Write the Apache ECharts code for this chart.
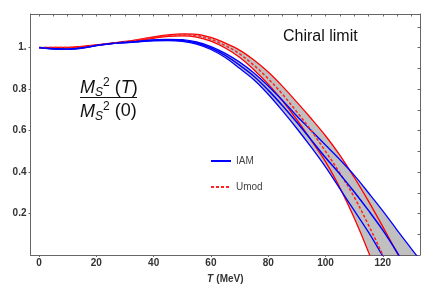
<!DOCTYPE html>
<html><head><meta charset="utf-8">
<script src="https://cdn.jsdelivr.net/npm/echarts@6/dist/echarts.min.js"></script>
<style>html,body{margin:0;padding:0;background:#fff}#c{width:436px;height:284px}</style>
</head><body><div id="c"></div>
<script>
// Temperature grid (MeV)
const T = [0,5,10,15,20,25,30,35,40,45,50,55,60,65,70,75,80,85,90,95,100,105,110,115,120,125,130,135];
// IAM: central value and band edges
const iamCenter = [1.0,0.994,0.992,0.998,1.01,1.019,1.025,1.03,1.035,1.037,1.034,1.022,0.998,0.962,0.915,0.862,0.795,0.72,0.64,0.555,0.47,0.39,0.305,0.215,0.12,0.013,-0.10,-0.21];
const iamUpper  = [1.0,0.995,0.993,0.999,1.011,1.02,1.027,1.032,1.037,1.04,1.038,1.027,1.005,0.972,0.93,0.878,0.815,0.745,0.67,0.60,0.53,0.46,0.385,0.30,0.213,0.12,0.03,-0.06];
const iamLower  = [1.0,0.993,0.991,0.997,1.009,1.018,1.023,1.028,1.033,1.034,1.03,1.017,0.991,0.952,0.90,0.845,0.775,0.695,0.61,0.52,0.425,0.32,0.215,0.11,-0.005,-0.12,-0.23,-0.34];
// Umod: central value and band edges
const umodCenter = [1.0,1.0,1.0,1.005,1.012,1.02,1.028,1.038,1.049,1.058,1.062,1.058,1.04,1.01,0.97,0.915,0.85,0.775,0.69,0.60,0.50,0.395,0.28,0.145,0.0,-0.15,-0.30,-0.45];
const umodUpper  = [1.0,1.001,1.001,1.006,1.013,1.021,1.03,1.04,1.052,1.061,1.066,1.064,1.049,1.022,0.988,0.94,0.882,0.813,0.737,0.658,0.575,0.482,0.375,0.26,0.137,0.01,-0.12,-0.25];
const umodLower  = [1.0,0.999,0.999,1.004,1.011,1.019,1.026,1.035,1.045,1.054,1.057,1.051,1.031,0.998,0.953,0.893,0.823,0.743,0.653,0.553,0.45,0.325,0.18,0.015,-0.17,-0.36,-0.55,-0.75];
// Tick values
const xTicks = [0,20,40,60,80,100,120];
const xMinorTicks = [0,5,10,15,20,25,30,35,40,45,50,55,60,65,70,75,80,85,90,95,100,105,110,115,120,125,130];
const yTicks = [0.2,0.4,0.6,0.8,1.0];
const yMinorTicks = [0.1,0.2,0.3,0.4,0.5,0.6,0.7,0.8,0.9,1.0,1.1];

const pts = arr => T.map((t,i)=>[t,arr[i]]);
const SM = 0.35;
const FILL = '#c0c0c0';
const AX = '#666';
const FONT = 'Liberation Sans, Arial, sans-serif';

const chart = echarts.init(document.getElementById('c'), null, {renderer:'canvas'});
const lbl = {fontFamily:FONT, fontWeight:'bold', fontSize:10, color:'#333'};

function band(upper, lower){
  return {type:'custom', silent:true, clip:true, z:1, data:[[0,0]],
    renderItem:(params, api)=>{
      const up = T.map((t,i)=>api.coord([t, upper[i]]));
      const lo = T.map((t,i)=>api.coord([t, lower[i]])).reverse();
      return {type:'polygon', shape:{points:up.concat(lo), smooth:SM}, style:{fill:FILL, stroke:null}};
    }};
}
function edge(data, color){return {type:'line', data, smooth:SM, symbol:'none', silent:true, lineStyle:{color, width:1.3}, z:3};}

const fracRich = {
  m:{fontFamily:FONT, fontStyle:'italic', fontSize:18, lineHeight:22, verticalAlign:'middle', fill:'#111'},
  n:{fontFamily:FONT, fontSize:18, lineHeight:22, verticalAlign:'middle', fill:'#111'},
  s:{fontFamily:FONT, fontStyle:'italic', fontSize:12, lineHeight:12, verticalAlign:'bottom', fill:'#111'},
  p:{fontFamily:FONT, fontSize:12, lineHeight:12, verticalAlign:'top', fill:'#111'}
};

chart.setOption({
  animation:false,
  grid:{left:30.5, right:16, top:14, bottom:29, containLabel:false, outerBoundsMode:'none'},
  xAxis:[{
    type:'value', min:-3, max:133, position:'bottom',
    name:'{i|T} {b|(MeV)}', nameLocation:'middle', nameGap:18,
    nameTextStyle:{rich:{i:{fontFamily:FONT, fontStyle:'italic', fontWeight:'bold', fontSize:10, color:'#333'}, b:{fontFamily:FONT, fontWeight:'bold', fontSize:10, color:'#333'}}},
    axisLine:{show:true, onZero:false, lineStyle:{color:AX, width:1}},
    axisTick:{show:true, inside:false, length:2, customValues:xTicks, lineStyle:{color:AX}},
    axisLabel:Object.assign({customValues:xTicks, margin:3}, lbl),
    splitLine:{show:false}
  },{
    type:'value', min:-3, max:133, position:'top',
    axisLine:{show:true, onZero:false, lineStyle:{color:AX, width:1}},
    axisTick:{show:true, inside:true, length:2.5, customValues:xMinorTicks, lineStyle:{color:AX}},
    axisLabel:{show:false}, splitLine:{show:false}
  }],
  yAxis:[{
    type:'value', min:0, max:1.162, position:'left',
    axisLine:{show:true, onZero:false, lineStyle:{color:AX, width:1}},
    axisTick:{show:true, inside:false, length:2, customValues:yTicks, lineStyle:{color:AX}},
    axisLabel:Object.assign({customValues:yTicks, margin:4, formatter:v=>Math.abs(v-1)<1e-9?'1.':v.toFixed(1)}, lbl),
    splitLine:{show:false}
  },{
    type:'value', min:0, max:1.162, position:'right',
    axisLine:{show:true, onZero:false, lineStyle:{color:AX, width:1}},
    axisTick:{show:true, inside:true, length:2.5, customValues:yMinorTicks, lineStyle:{color:AX}},
    axisLabel:{show:false}, splitLine:{show:false}
  }],
  legend:{
    data:['IAM','Umod'], orient:'vertical', left:205, top:151, itemWidth:20, itemHeight:10, itemGap:16,
    itemStyle:{opacity:0},
    textStyle:{fontFamily:FONT, fontSize:10, color:'#444'},
    selectedMode:false
  },
  graphic:[
    {type:'text', left:283, top:29, z:10, style:{text:'Chiral limit', fontFamily:FONT, fontSize:16, fill:'#111'}},
    {type:'text', left:80, top:77, z:10, style:{text:'{m|M}{s|S}{p|2}{n| (}{m|T}{n|)}', rich:fracRich}},
    {type:'line', z:10, shape:{x1:80, y1:97.5, x2:137, y2:97.5}, style:{stroke:'#111', lineWidth:1}},
    {type:'text', left:80, top:100.5, z:10, style:{text:'{m|M}{s|S}{p|2}{n| (0)}', rich:fracRich}}
  ],
  series:[
    band(iamUpper, iamLower),
    band(umodUpper, umodLower),
    edge(pts(umodLower),'#ff0000'),
    edge(pts(umodUpper),'#ff0000'),
    edge(pts(iamLower),'#0000ff'),
    edge(pts(iamUpper),'#0000ff'),
    {name:'Umod', type:'line', data:pts(umodCenter), smooth:SM, symbol:'none', lineStyle:{color:'#ff2020', width:1.5, type:[3,2]}, itemStyle:{color:'#ff2020'}, z:4},
    {name:'IAM', type:'line', data:pts(iamCenter), smooth:SM, symbol:'none', lineStyle:{color:'#0000ff', width:1.5}, itemStyle:{color:'#0000ff'}, z:5}
  ]
});
</script></body></html>
